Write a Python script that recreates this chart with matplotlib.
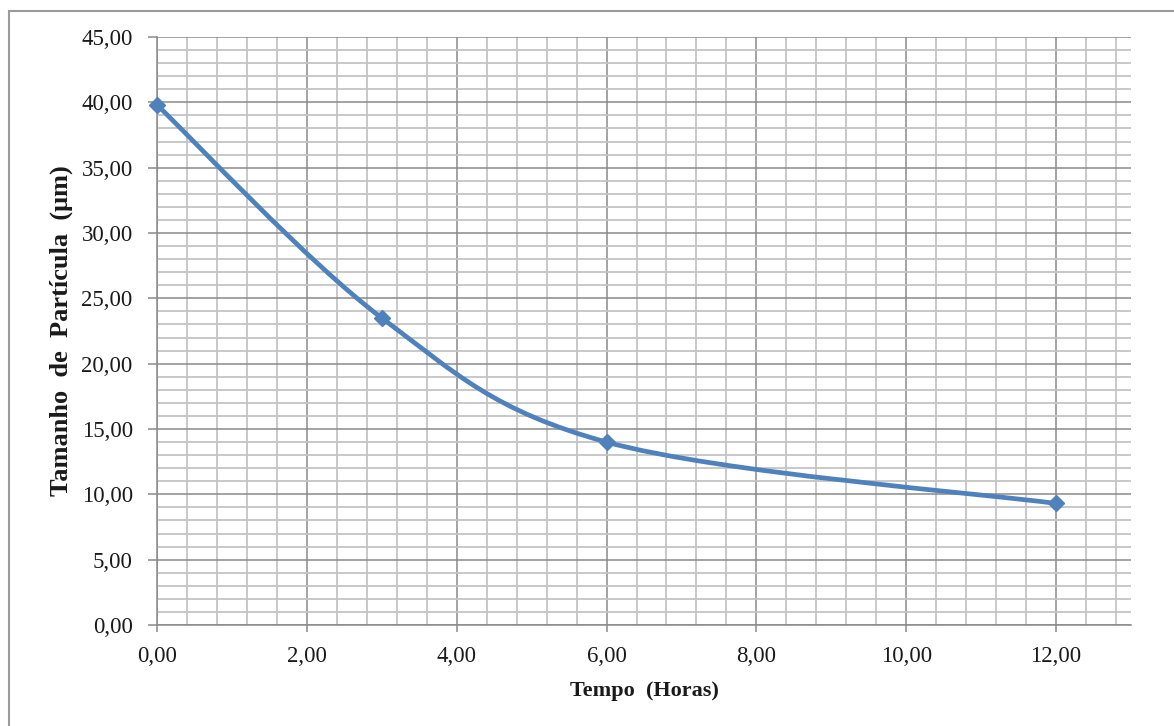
import matplotlib
matplotlib.use("Agg")
import matplotlib.pyplot as plt
from matplotlib.path import Path
from matplotlib.patches import PathPatch, Rectangle
from matplotlib.ticker import MultipleLocator, FuncFormatter

# data
tempo_h = [0.0, 3.0, 6.0, 12.0]
tamanho_um = [39.8, 23.5, 14.0, 9.3]

LINE_BLUE = "#4F81BD"
MAJOR_GRID = "#8a8a8a"
MINOR_GRID = "#c4c4c4"
TEXT = "#1a1a1a"

plt.rcParams['font.family'] = ['Liberation Serif', 'DejaVu Serif']

fig = plt.figure(figsize=(11.74, 7.26), dpi=100)
ax = fig.add_axes([157 / 1174, 1 - 625 / 726, (1131 - 157) / 1174, (625 - 37) / 726])

# outer chart border
fig.patches.append(Rectangle((9 / 1174, -0.05), 1.1, 1 - 11 / 726 + 0.05, transform=fig.transFigure,
                             fill=False, edgecolor="#9a9a9a", linewidth=1.5, zorder=0))


def smooth_path(xs, ys):
    # excel-like smoothed line: cubic bezier through the points
    pts = list(zip(xs, ys))
    n = len(pts)
    verts = [pts[0]]
    codes = [Path.MOVETO]
    for i in range(n - 1):
        p0 = pts[i - 1] if i > 0 else pts[i]
        p1 = pts[i]
        p2 = pts[i + 1]
        p3 = pts[i + 2] if i + 2 < n else pts[i + 1]
        c1 = (p1[0] + (p2[0] - p0[0]) / 6, p1[1] + (p2[1] - p0[1]) / 6)
        c2 = (p2[0] - (p3[0] - p1[0]) / 6, p2[1] - (p3[1] - p1[1]) / 6)
        verts += [c1, c2, p2]
        codes += [Path.CURVE4] * 3
    return Path(verts, codes)


ax.add_patch(PathPatch(smooth_path(tempo_h, tamanho_um), facecolor='none', edgecolor=LINE_BLUE,
                       linewidth=3.4, capstyle='round', joinstyle='round', zorder=4))
ax.plot(tempo_h, tamanho_um, linestyle='none', marker='D', markersize=8.5,
        color=LINE_BLUE, zorder=5, clip_on=False)

ax.set_xlim(0, 13)
ax.set_ylim(0, 45)
ax.xaxis.set_major_locator(MultipleLocator(2))
ax.xaxis.set_minor_locator(MultipleLocator(0.4))
ax.yaxis.set_major_locator(MultipleLocator(5))
ax.yaxis.set_minor_locator(MultipleLocator(1))

fmt = FuncFormatter(lambda v, p: f"{v:.2f}".replace(".", ","))
ax.xaxis.set_major_formatter(fmt)
ax.yaxis.set_major_formatter(fmt)

ax.grid(which='minor', color=MINOR_GRID, linewidth=1.3, zorder=1)
ax.grid(which='major', color=MAJOR_GRID, linewidth=1.1, zorder=2)
ax.set_axisbelow(True)

for s in ['top', 'right']:
    ax.spines[s].set_visible(False)
for s in ['left', 'bottom']:
    ax.spines[s].set_color(MAJOR_GRID)
    ax.spines[s].set_linewidth(1.1)

ax.tick_params(which='minor', length=0)
ax.tick_params(axis='y', which='major', length=6.5, width=1.1, color=MAJOR_GRID,
               pad=11, labelsize=16.5, labelcolor=TEXT)
ax.tick_params(axis='x', which='major', length=5, width=1.1, color=MAJOR_GRID,
               pad=10, labelsize=16.5, labelcolor=TEXT)

ax.set_xlabel("Tempo  (Horas)", fontsize=16, fontweight='bold', color=TEXT, labelpad=10)
ax.set_ylabel("Tamanho  de  Partícula  (μm)", fontsize=19, fontweight='bold', color=TEXT)
ax.yaxis.set_label_coords(-0.086, 0.5)

fig.savefig("out.png", dpi=100, facecolor='white')
